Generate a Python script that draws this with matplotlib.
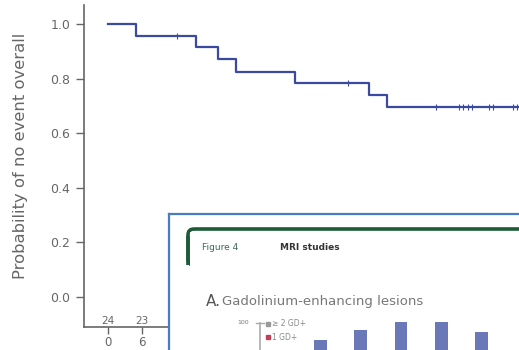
import numpy as np
import matplotlib
matplotlib.use('Agg')
import matplotlib.pyplot as plt
from matplotlib.patches import FancyBboxPatch

# Kaplan-Meier curve (months, probability of no event)
event_months = [0, 4.9, 15.5, 19.4, 22.6, 33.0, 46.0, 49.2, 72.5]
survival = [1.0, 0.958, 0.916, 0.873, 0.825, 0.785, 0.741, 0.696, 0.696]
censor_months = [12.2, 42.3, 57.9, 62.0, 62.6, 63.5, 64.2, 67.2, 67.9, 71.5, 72.2]
risk_months = [0, 6]
at_risk = [24, 23]
y_ticks = [0.0, 0.2, 0.4, 0.6, 0.8, 1.0]
# the rest of the month axis is hidden behind the pasted inset
x_ticks = [0, 6]

# inset screenshot: small bar chart
bar_pos = [1, 2, 3, 4, 5]
bar_vals = [82, 92, 100, 100, 90]

grey = '#666666'
curve_col = '#3b4a9e'

fig = plt.figure(figsize=(5.19, 3.5), dpi=100)
W, H = 519.0, 350.0

ax = fig.add_axes([84 / W, (H - 327) / H, (W - 84) / W, (327 - 5) / H])
ax.step(event_months, survival, where='post', color=curve_col, lw=1.6)
cens_y = [survival[np.searchsorted(event_months, m, side='right') - 1] for m in censor_months]
ax.plot(censor_months, cens_y, ls='none', marker='|', ms=5, mew=0.8, color=curve_col)

ax.set_xlim(-4.24, 72.5)
ax.set_ylim(-0.11, 1.07)
ax.set_yticks(y_ticks)
ax.set_yticklabels(['%.1f' % v for v in y_ticks])
ax.set_xticks(x_ticks)
ax.set_xticklabels([str(v) for v in x_ticks])
for s in ['top', 'right']:
    ax.spines[s].set_visible(False)
for s in ['left', 'bottom']:
    ax.spines[s].set_color(grey)
    ax.spines[s].set_linewidth(1.2)
ax.tick_params(axis='y', colors=grey, labelcolor=grey, labelsize=9, length=6, width=1, pad=4)
ax.tick_params(axis='x', colors=grey, labelcolor=grey, labelsize=8.5, length=5, width=1, pad=1.5)
ax.set_ylabel('Probability of no event overall', color=grey, fontsize=11.8)
ax.yaxis.set_label_coords(-0.128, 0.531)
for m, n in zip(risk_months, at_risk):
    ax.text(m, -0.107, str(n), ha='center', va='bottom', fontsize=7.5, color=grey)

# inset picture (blue frame, white fill)
ins = fig.add_axes([169 / W, 0, (W - 169) / W + 0.01, (H - 214) / H])
ins.set_zorder(5)
ins.set_xlim(169, W + 5)
ins.set_ylim(H, 214)
ins.set_xticks([])
ins.set_yticks([])
ins.set_facecolor('white')
for s in ['right', 'bottom']:
    ins.spines[s].set_visible(False)
for s in ['left', 'top']:
    ins.spines[s].set_color('#4a7cc4')
    ins.spines[s].set_linewidth(1.6)

bracket = FancyBboxPatch((188, 229), 400, 36, boxstyle='round,pad=0,rounding_size=6',
                         fill=False, ec='#1d5b38', lw=2.6, clip_on=True)
ins.add_patch(bracket)
ins.add_patch(plt.Rectangle((190, 232), 400, 60, fc='white', ec='none'))
ins.plot([188, 188], [236, 265], color='#1d5b38', lw=2.6, solid_capstyle='butt')
ins.text(202, 247, 'Figure 4', fontsize=6.5, color='#3c6a50', va='center')
ins.text(280, 247, 'MRI studies', fontsize=6.5, color='#333333', va='center', weight='bold')
ins.text(206, 301, 'A.', fontsize=11, color='#555555', va='center')
ins.text(222, 301, 'Gadolinium-enhancing lesions', fontsize=9.5, color='#777777', va='center')
ins.text(243, 323, '100', fontsize=4.5, color='#777777', va='center', ha='center')
ins.plot([260, 260], [323, H], color='#aaaaaa', lw=1.2)
ins.plot([256, 264], [323, 323], color='#aaaaaa', lw=1)
ins.plot([268], [323.5], marker='s', ms=2.5, color='#999999', ls='none')
ins.text(272, 323.5, '\u2265 2 GD+', fontsize=5.5, color='#888888', va='center')
ins.plot([268], [337], marker='s', ms=2.5, color='#c0405a', ls='none')
ins.text(272, 337, '1 GD+', fontsize=5.5, color='#888888', va='center')

# nested mini bar chart
mini = fig.add_axes([300 / W, (H - 420) / H, (510 - 300) / W, (420 - 322) / H])
mini.set_zorder(6)
mini.patch.set_alpha(0)
mini.bar(bar_pos, bar_vals, width=0.32, color='#6a78b8')
mini.set_xlim(0.5, 5.7)
mini.set_ylim(0, 100)
mini.axis('off')

fig.savefig('out.png', dpi=100)
